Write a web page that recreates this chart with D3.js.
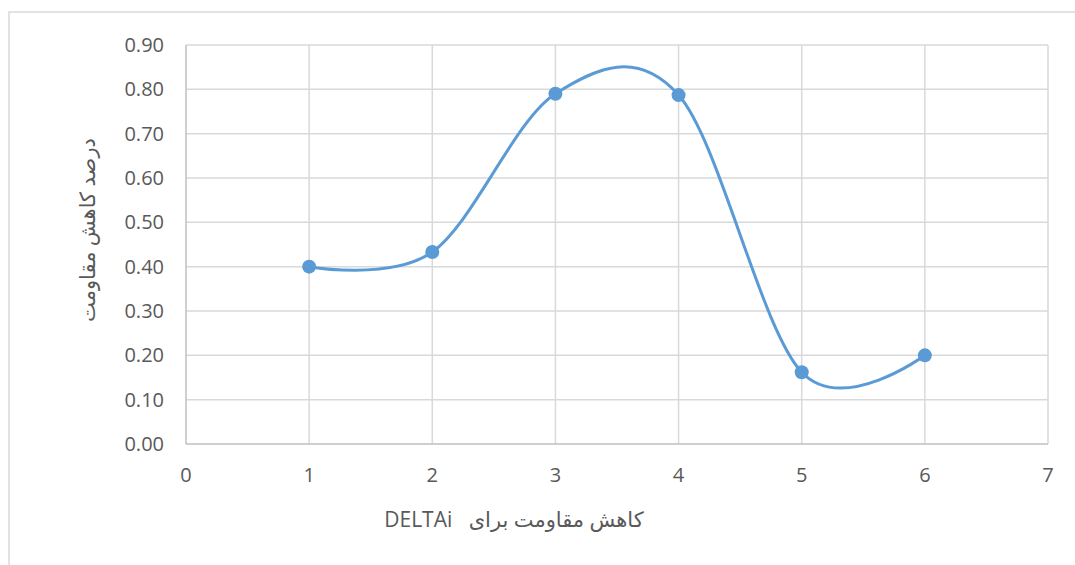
<!DOCTYPE html>
<html><head><meta charset="utf-8">
<script src="https://cdn.jsdelivr.net/npm/d3@7"></script>
<style>
body{margin:0;background:#fff;}
svg{display:block;font-family:"Open Sans","DejaVu Sans",sans-serif;}
</style></head>
<body>
<svg id="c" width="1075" height="565"></svg>
<script>
const xValues = [1, 2, 3, 4, 5, 6];
const yValues = [0.40, 0.433, 0.79, 0.787, 0.162, 0.20];
const xTicks = [0, 1, 2, 3, 4, 5, 6, 7];
const yTicks = [0, 0.1, 0.2, 0.3, 0.4, 0.5, 0.6, 0.7, 0.8, 0.9];
const xTitle = "DELTAi   کاهش مقاومت برای";
const yTitle = "درصد کاهش مقاومت";

const svg = d3.select("#c");
svg.append("rect").attr("x",9).attr("y",12).attr("width",1100).attr("height",600)
  .attr("fill","none").attr("stroke","#d9d9d9").attr("stroke-width",1.5);

const L=186,R=1048,T=45,B=444;
const x=d3.scaleLinear().domain([0,7]).range([L,R]);
const y=d3.scaleLinear().domain([0,0.9]).range([B,T]);

const g=svg.append("g");
g.selectAll(".hg").data(yTicks.filter(d=>d>0)).join("line")
  .attr("x1",L).attr("x2",R).attr("y1",d=>y(d)).attr("y2",d=>y(d))
  .attr("stroke","#d9d9d9").attr("stroke-width",1.5);
g.selectAll(".vg").data(xTicks.filter(d=>d>0)).join("line")
  .attr("x1",d=>x(d)).attr("x2",d=>x(d)).attr("y1",T).attr("y2",B)
  .attr("stroke","#d9d9d9").attr("stroke-width",1.5);
g.append("line").attr("x1",L).attr("x2",L).attr("y1",T).attr("y2",B).attr("stroke","#bfbfbf").attr("stroke-width",1.5);
g.append("line").attr("x1",L).attr("x2",R).attr("y1",B).attr("y2",B).attr("stroke","#bfbfbf").attr("stroke-width",1.5);

g.selectAll(".yl").data(yTicks).join("text")
  .attr("x",L-22).attr("y",d=>y(d)).attr("dy","0.35em").attr("text-anchor","end")
  .attr("font-size",20).attr("fill","#595959").text(d=>d.toFixed(2));
g.selectAll(".xl").data(xTicks).join("text")
  .attr("x",d=>x(d)).attr("y",B+31).attr("dy","0.35em").attr("text-anchor","middle")
  .attr("font-size",20).attr("fill","#595959").text(d=>d);

svg.append("text").attr("x",514).attr("y",520).attr("dy","0.35em").attr("text-anchor","middle")
  .attr("font-size",21).attr("fill","#595959").style("white-space","pre").text(xTitle);
svg.append("text").attr("transform","translate(88,230) rotate(-90)").attr("dy","0.35em")
  .attr("text-anchor","middle").attr("font-size",21).attr("fill","#595959").text(yTitle);

const pts=xValues.map((v,i)=>[v,yValues[i]]);
const line=d3.line().x(d=>x(d[0])).y(d=>y(d[1])).curve(d3.curveCardinal.tension(0));
svg.append("path").attr("d",line(pts)).attr("fill","none").attr("stroke","#5b9bd5").attr("stroke-width",3);
svg.selectAll(".pt").data(pts).join("circle")
  .attr("cx",d=>x(d[0])).attr("cy",d=>y(d[1])).attr("r",7).attr("fill","#5b9bd5");
</script>
</body></html>
